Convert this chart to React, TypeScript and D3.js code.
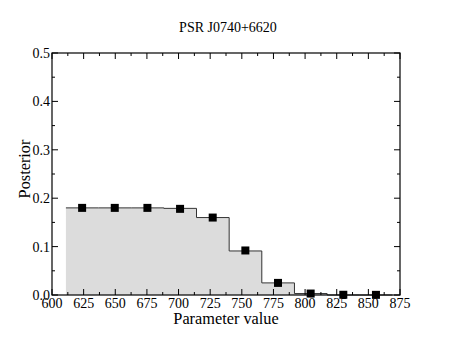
import React, { useEffect, useRef } from "react";
import * as d3 from "d3";

// histogram bin edges (start of each bin) and heights
const binStarts = [611, 636.8, 662.6, 688.4, 714.2, 740, 765.8, 791.6, 817.4, 843.2];
const binWidth = 25.8;
const binHeights = [0.18, 0.18, 0.18, 0.179, 0.16, 0.091, 0.025, 0.003, 0, 0];
// marker points (bin centers)
const pointX = [623.8, 649.6, 675.4, 701.2, 727, 752.8, 778.6, 804.4, 830.2, 856];
const pointY = [0.18, 0.18, 0.18, 0.178, 0.16, 0.092, 0.025, 0.003, 0.0005, 0.0003];
const xTicks = [600, 625, 650, 675, 700, 725, 750, 775, 800, 825, 850, 875];
const yTicks = [0, 0.1, 0.2, 0.3, 0.4, 0.5];

const FONT = "Liberation Serif, Times New Roman, Times, DejaVu Serif, serif";

const App = () => {
  const ref = useRef<SVGSVGElement>(null);

  useEffect(() => {
    const margin = { top: 53, right: 50, bottom: 53, left: 52 };
    const W = 450;
    const H = 348;
    const width = W - margin.left - margin.right;
    const height = H - margin.top - margin.bottom;

    const root = d3.select(ref.current);
    root.selectAll("*").remove();
    const svg = root.append("g").attr("transform", `translate(${margin.left},${margin.top})`);

    const x = d3.scaleLinear().domain([600, 875]).range([0, width]);
    const y = d3.scaleLinear().domain([0, 0.5]).range([height, 0]);

    // histogram area
    const steps: [number, number][] = [];
    binStarts.forEach((s, i) => {
      steps.push([s, binHeights[i]]);
      steps.push([s + binWidth, binHeights[i]]);
    });
    const area = d3
      .area<[number, number]>()
      .x((d) => x(d[0]))
      .y0(height)
      .y1((d) => y(d[1]));
    svg.append("path").datum(steps).attr("fill", "#dcdcdc").attr("d", area);

    const line = d3
      .line<[number, number]>()
      .x((d) => x(d[0]))
      .y((d) => y(d[1]));
    svg
      .append("path")
      .datum(steps)
      .attr("fill", "none")
      .attr("stroke", "#333")
      .attr("stroke-width", 1)
      .attr("d", line);

    // frame
    svg
      .append("rect")
      .attr("width", width)
      .attr("height", height)
      .attr("fill", "none")
      .attr("stroke", "#000")
      .attr("stroke-width", 1.2);

    // ticks (inward, all sides)
    const xMinor = d3.range(612.5, 875, 25);
    const yMinor = d3.range(0.05, 0.5, 0.1);
    const tk = svg.append("g").attr("stroke", "#000").attr("stroke-width", 1);
    xTicks.forEach((t) => {
      tk.append("line").attr("x1", x(t)).attr("x2", x(t)).attr("y1", height).attr("y2", height - 6);
      tk.append("line").attr("x1", x(t)).attr("x2", x(t)).attr("y1", 0).attr("y2", 6);
    });
    xMinor.forEach((t) => {
      tk.append("line").attr("x1", x(t)).attr("x2", x(t)).attr("y1", height).attr("y2", height - 3);
      tk.append("line").attr("x1", x(t)).attr("x2", x(t)).attr("y1", 0).attr("y2", 3);
    });
    yTicks.forEach((t) => {
      tk.append("line").attr("x1", 0).attr("x2", 6).attr("y1", y(t)).attr("y2", y(t));
      tk.append("line").attr("x1", width).attr("x2", width - 6).attr("y1", y(t)).attr("y2", y(t));
    });
    yMinor.forEach((t) => {
      tk.append("line").attr("x1", 0).attr("x2", 3).attr("y1", y(t)).attr("y2", y(t));
      tk.append("line").attr("x1", width).attr("x2", width - 3).attr("y1", y(t)).attr("y2", y(t));
    });

    // tick labels
    svg
      .append("g")
      .selectAll("text")
      .data(xTicks)
      .join("text")
      .attr("x", (d) => x(d))
      .attr("y", height + 13)
      .attr("text-anchor", "middle")
      .attr("font-size", 14)
      .text((d) => d);
    svg
      .append("g")
      .selectAll("text")
      .data(yTicks)
      .join("text")
      .attr("x", -2)
      .attr("y", (d) => y(d) + 5)
      .attr("text-anchor", "end")
      .attr("font-size", 14)
      .text((d) => d.toFixed(1));

    // markers
    svg
      .append("g")
      .selectAll("rect")
      .data(pointX)
      .join("rect")
      .attr("x", (d) => x(d) - 4)
      .attr("y", (_, i) => y(pointY[i]) - 4)
      .attr("width", 8)
      .attr("height", 8)
      .attr("fill", "#000");

    // labels
    svg
      .append("text")
      .attr("x", width / 2)
      .attr("y", height + 29)
      .attr("text-anchor", "middle")
      .attr("font-size", 16.3)
      .text("Parameter value");
    svg
      .append("text")
      .attr("transform", `translate(-22,${height / 2 - 5}) rotate(-90)`)
      .attr("text-anchor", "middle")
      .attr("font-size", 16.3)
      .text("Posterior");
    svg
      .append("text")
      .attr("x", width / 2 + 2)
      .attr("y", -21)
      .attr("text-anchor", "middle")
      .attr("font-size", 14)
      .text("PSR J0740+6620");
  }, []);

  return (
    <svg
      ref={ref}
      width={450}
      height={348}
      style={{ position: "absolute", left: 0, top: 0, background: "#fff", fontFamily: FONT }}
    />
  );
};

export default App;
